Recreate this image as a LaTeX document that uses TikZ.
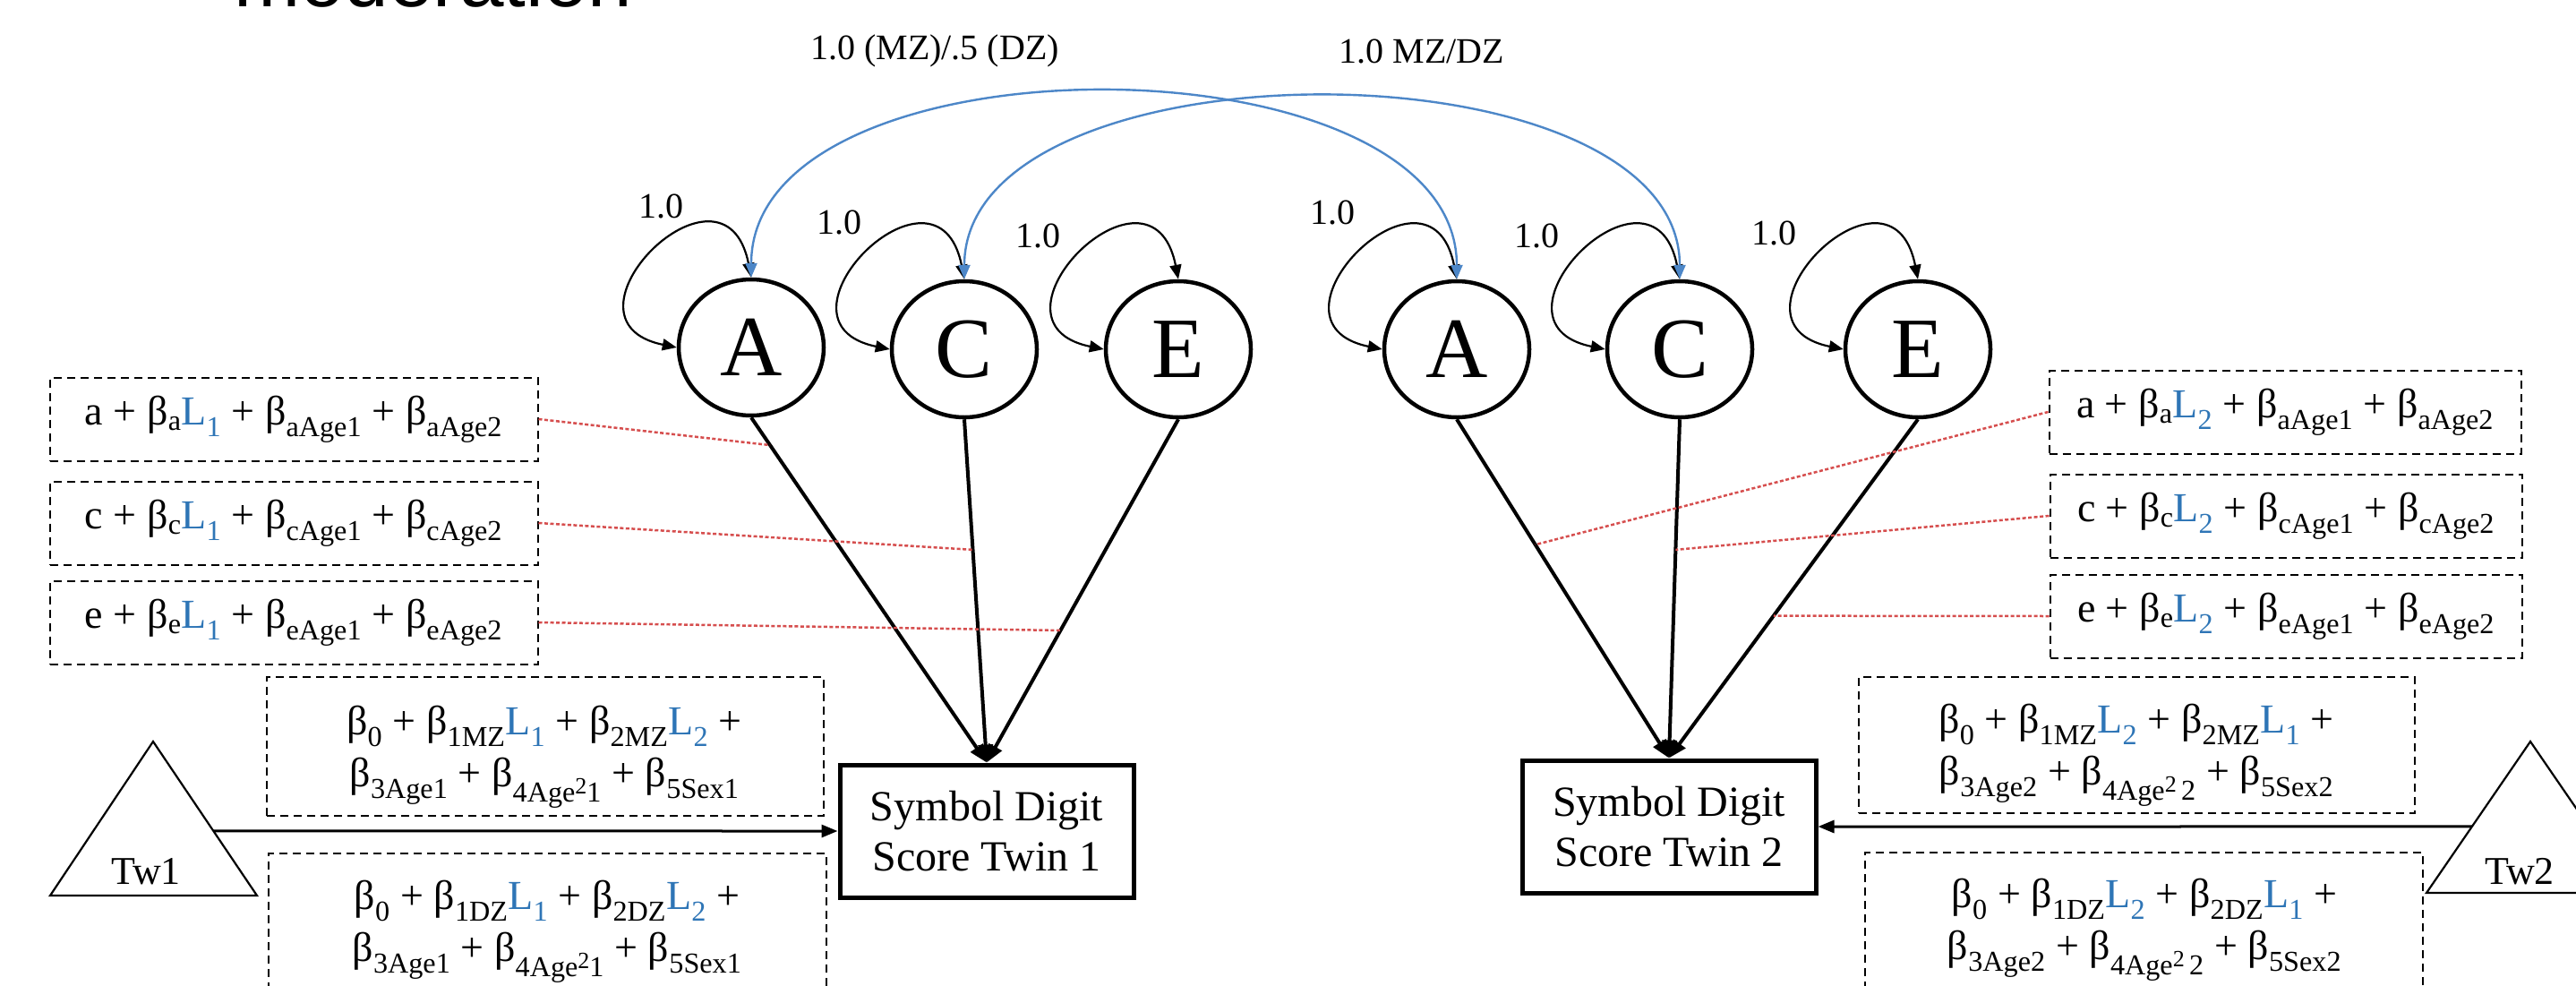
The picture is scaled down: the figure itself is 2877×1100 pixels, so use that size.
\documentclass[tikz,border=0pt]{standalone}
\usepackage{fontspec}
\setmainfont{Liberation Serif}
\newfontfamily\headsans{Liberation Sans}
\usetikzlibrary{shapes.geometric,arrows.meta,calc}
\definecolor{lblue}{RGB}{46,117,182}
\definecolor{arcblue}{RGB}{77,135,200}
\definecolor{modred}{RGB}{214,78,78}
\newcommand\Lone{\textcolor{lblue}{L\textsubscript{1}}}
\newcommand\Ltwo{\textcolor{lblue}{L\textsubscript{2}}}
% squared-age index: a raised 2 kept close to subscript size
\newcommand\sqtwo{\raisebox{0.55ex}{\fontsize{26}{26}\selectfont 2}}

\begin{document}
\begin{tikzpicture}[x=1pt,y=-1pt,
  latent/.style={ellipse,draw,line width=4.5pt,minimum width=162pt,minimum height=152pt,inner sep=0pt,font=\fontsize{96}{110}\selectfont},
  observed/.style={rectangle,draw,line width=5pt,minimum width=328pt,minimum height=148pt,inner sep=0pt,align=center,font=\fontsize{48}{56}\selectfont},
  formbox/.style={rectangle,draw,line width=2pt,dash pattern=on 9pt off 6pt,inner sep=0pt,align=center,font=\fontsize{46}{58}\selectfont},
  formtext/.style={inner sep=0pt,align=center,font=\fontsize{46}{58}\selectfont},
  wt/.style={inner sep=0pt,font=\fontsize{40}{48}\selectfont},
  twlabel/.style={inner sep=0pt,font=\fontsize{44}{50}\selectfont},
  varloop/.style={line width=2.2pt,<->,>={Triangle[length=16pt,width=13pt]}},
  covarc/.style={draw=arcblue,line width=2.4pt,<->,>={Triangle[length=16pt,width=13pt]}},
  loadln/.style={line width=4pt,->,>={Triangle[length=20pt,width=16pt]}},
  meanln/.style={line width=3pt,->,>={Triangle[length=18pt,width=14pt]}},
  modln/.style={draw=modred,line width=2.5pt,dash pattern=on 4pt off 2.5pt},
  meantri/.style={line width=2.2pt,line join=miter},
]
\useasboundingbox (0,0) rectangle (2877,1100);
\fill[white] (0,0) rectangle (2877,1100);
\clip (0,0) rectangle (2877,1100);

% heading, cut by the top edge
\node[anchor=base west,inner sep=0pt,font=\headsans\fontsize{89}{100}\selectfont] (title) at (261,8) {moderation};

% latent factors
\node[latent] (A1) at (839,388) {A};
\node[latent] (C1) at (1077,390) {C};
\node[latent] (E1) at (1316,390) {E};
\node[latent] (A2) at (1627,390) {A};
\node[latent] (C2) at (1876,390) {C};
\node[latent] (E2) at (2142,390) {E};

% observed scores
\node[observed] (S1) at (1102,928) {Symbol Digit\\Score Twin 1};
\node[observed] (S2) at (1864,923) {Symbol Digit\\Score Twin 2};

% variance loops
\foreach \f in {A1,C1,E1,A2,C2,E2}
  \draw[varloop] (\f.north) .. controls +(-30,-152) and +(-147,-30) .. (\f.west);

\node[wt] (vA1) at (738,230) {1.0};
\node[wt] (vC1) at (937,248) {1.0};
\node[wt] (vE1) at (1159,263) {1.0};
\node[wt] (vA2) at (1488,237) {1.0};
\node[wt] (vC2) at (1716,263) {1.0};
\node[wt] (vE2) at (1981,260) {1.0};

% twin covariances
\draw[covarc] (A1.north) .. controls +(0,-276) and +(0,-276) .. (A2.north);
\draw[covarc] (C1.north) .. controls +(0,-270) and +(0,-270) .. (C2.north);
\node[wt] (rA) at (1044,57) {1.0 (MZ)/.5 (DZ)};
\node[wt] (rC) at (1588,57) {1.0 MZ/DZ};

% factor loadings
\foreach \f in {A1,C1,E1} \draw[loadln] (\f.south) -- (S1.north);
\foreach \f in {A2,C2,E2} \draw[loadln] (\f.south) -- (S2.north);

% moderated path coefficients, twin 1
\node[formbox,minimum width=545pt,minimum height=93pt] (a1) at (328,468)
  {a + β\textsubscript{a}\Lone{} + β\textsubscript{aAge1} + β\textsubscript{aAge2}};
\node[formbox,minimum width=545pt,minimum height=93pt] (c1) at (328,584)
  {c + β\textsubscript{c}\Lone{} + β\textsubscript{cAge1} + β\textsubscript{cAge2}};
\node[formbox,minimum width=545pt,minimum height=93pt] (e1) at (328,695)
  {e + β\textsubscript{e}\Lone{} + β\textsubscript{eAge1} + β\textsubscript{eAge2}};

% moderated path coefficients, twin 2
\node[formbox,minimum width=527pt,minimum height=93pt] (a2) at (2552,460)
  {a + β\textsubscript{a}\Ltwo{} + β\textsubscript{aAge1} + β\textsubscript{aAge2}};
\node[formbox,minimum width=527pt,minimum height=93pt] (c2) at (2553,576)
  {c + β\textsubscript{c}\Ltwo{} + β\textsubscript{cAge1} + β\textsubscript{cAge2}};
\node[formbox,minimum width=527pt,minimum height=93pt] (e2) at (2553,688)
  {e + β\textsubscript{e}\Ltwo{} + β\textsubscript{eAge1} + β\textsubscript{eAge2}};

% points on the loadings where the moderators attach
\path (A1.south) -- (S1.north) coordinate[pos=0.08] (ma1);
\path (C1.south) -- (S1.north) coordinate[pos=0.38] (mc1);
\path (E1.south) -- (S1.north) coordinate[pos=0.615] (me1);
\path (A2.south) -- (S2.north) coordinate[pos=0.37] (ma2);
\path (C2.south) -- (S2.north) coordinate[pos=0.385] (mc2);
\path (E2.south) -- (S2.north) coordinate[pos=0.58] (me2);
\draw[modln] (a1.east) -- (ma1);
\draw[modln] (c1.east) -- (mc1);
\draw[modln] (e1.east) -- (me1);
\draw[modln] (a2.west) -- (ma2);
\draw[modln] (c2.west) -- (mc2);
\draw[modln] (e2.west) -- (me2);

% means triangles
\coordinate (t1a) at (171,828);
\coordinate (t1r) at (287,1000);
\coordinate (t1l) at (56,1000);
\draw[meantri] (t1a) -- (t1r) -- (t1l) -- cycle;
\coordinate (tw1out) at ($(t1a)!0.581!(t1r)$);
\node[twlabel] (tw1) at (163,973) {Tw1};

\coordinate (t2a) at (2826,828);
\coordinate (t2l) at (2710,997);
\coordinate (t2r) at (2942,997);
\draw[meantri] (t2a) -- (t2l) -- (t2r) -- cycle;
\coordinate (tw2out) at ($(t2a)!0.562!(t2l)$);
\node[twlabel] (tw2) at (2814,973) {Tw2};

\draw[meanln] (tw1out) -- (S1.west);
\draw[meanln] (tw2out) -- (S2.east);

% mean structure boxes
\node[formbox,minimum width=622pt,minimum height=155pt] (mz1) at (609,833.5) {};
\node[formtext] (mz1t) at (608,845)
  {β\textsubscript{0} + β\textsubscript{1MZ}\Lone{} + β\textsubscript{2MZ}\Ltwo{} +\\
   β\textsubscript{3Age1} + β\textsubscript{4Age\sqtwo1} + β\textsubscript{5Sex1}};
\node[formbox,minimum width=623pt,minimum height=200pt] (dz1) at (611.5,1053) {};
\node[formtext] (dz1t) at (611,1040)
  {β\textsubscript{0} + β\textsubscript{1DZ}\Lone{} + β\textsubscript{2DZ}\Ltwo{} +\\
   β\textsubscript{3Age1} + β\textsubscript{4Age\sqtwo1} + β\textsubscript{5Sex1}};

\node[formbox,minimum width=621pt,minimum height=152pt] (mz2) at (2386.5,832) {};
\node[formtext] (mz2t) at (2386,843)
  {β\textsubscript{0} + β\textsubscript{1MZ}\Ltwo{} + β\textsubscript{2MZ}\Lone{} +\\
   β\textsubscript{3Age2} + β\textsubscript{4Age\sqtwo\,2} + β\textsubscript{5Sex2}};
\node[formbox,minimum width=623pt,minimum height=200pt] (dz2) at (2394.5,1052) {};
\node[formtext] (dz2t) at (2395,1038)
  {β\textsubscript{0} + β\textsubscript{1DZ}\Ltwo{} + β\textsubscript{2DZ}\Lone{} +\\
   β\textsubscript{3Age2} + β\textsubscript{4Age\sqtwo\,2} + β\textsubscript{5Sex2}};
\end{tikzpicture}
\end{document}
